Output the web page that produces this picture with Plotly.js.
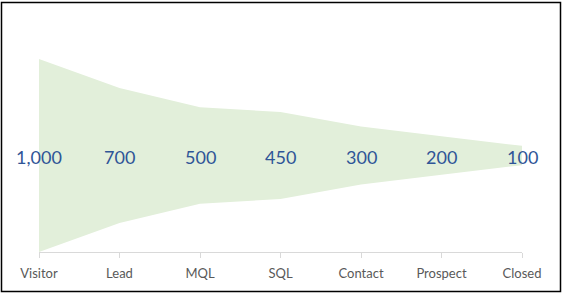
<!DOCTYPE html>
<html><head><meta charset="utf-8">
<script src="https://cdn.plot.ly/plotly-3.0.1.min.js"></script>
<style>html,body{margin:0;padding:0;background:#fff}#chart{width:563px;height:294px}</style>
</head><body><div id="chart"></div>
<script>
const stages = ["Visitor","Lead","MQL","SQL","Contact","Prospect","Closed"];
const counts = [1000,700,500,450,300,200,100];
const maxCount = Math.max(...counts);
const labels = counts.map(v => v.toLocaleString("en-US"));
const offsets = counts.map(v => (maxCount - v) / 2);
const mids = counts.map((v, i) => offsets[i] + v / 2);

const traces = [
  {x: stages, y: offsets, type: "scatter", mode: "none", stackgroup: "f",
   fillcolor: "rgba(0,0,0,0)", hoverinfo: "skip", showlegend: false},
  {x: stages, y: counts, type: "scatter", mode: "none", stackgroup: "f",
   fillcolor: "#E2EFDA", hoverinfo: "skip", showlegend: false}
];

const annotations = stages.map((s, i) => ({
  x: s, y: mids[i], xref: "x", yref: "y", text: labels[i], showarrow: false,
  yshift: -1, font: {family: "Lato, 'Open Sans', sans-serif", size: 18, color: "#2F5597"}
}));

const W = 483, H = 193;
const layout = {
  width: 563, height: 294,
  margin: {l: 39, r: 41, t: 59, b: 42, pad: 0},
  paper_bgcolor: "#fff", plot_bgcolor: "#fff",
  showlegend: false,
  xaxis: {type: "category", range: [0, 6], showgrid: false, zeroline: false,
    showline: true, linecolor: "#D9D9D9", linewidth: 1,
    ticks: "outside", ticklen: 5, tickcolor: "#D9D9D9", tickwidth: 1,
    tickfont: {family: "Lato, 'Open Sans', sans-serif", size: 13, color: "#595959"},
    ticklabelstandoff: 4, fixedrange: true},
  yaxis: {range: [0, maxCount], visible: false, fixedrange: true},
  annotations: annotations,
  shapes: [{type: "rect", xref: "paper", yref: "paper",
    x0: (1.5 - 39) / W, x1: (560.5 - 39) / W,
    y0: (252 - 291.5) / H, y1: (252 - 2.5) / H,
    line: {color: "#000", width: 1.5}, fillcolor: "rgba(0,0,0,0)"}]
};
Plotly.newPlot("chart", traces, layout, {displayModeBar: false, staticPlot: true});
</script></body></html>
